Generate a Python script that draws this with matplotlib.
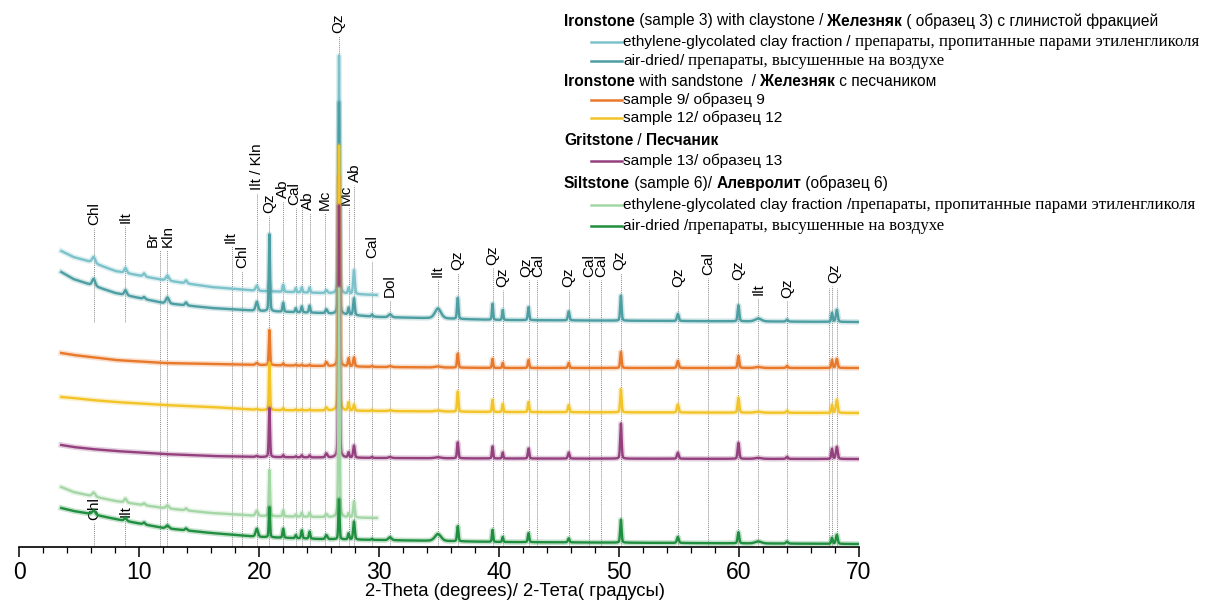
import numpy as np
import matplotlib
matplotlib.use("Agg")
import matplotlib.pyplot as plt
from matplotlib.lines import Line2D
from matplotlib.ticker import MultipleLocator

W, H = 1212, 603

# peak positions (2-theta) shared by all patterns, half widths
peak_pos = [6.2, 8.85, 10.4, 12.35, 13.9, 19.8, 20.85, 22.0, 23.05, 23.55, 24.2, 25.6, 26.65, 27.45, 27.9,
            29.4, 30.9, 34.9, 36.55, 39.45, 40.3, 42.45, 45.8, 50.15, 54.9, 59.95, 61.6, 64.0, 67.75, 68.15]
peak_hw = [0.15, 0.12, 0.1, 0.15, 0.1, 0.12, 0.06, 0.07, 0.07, 0.07, 0.07, 0.1, 0.06, 0.07, 0.08,
           0.07, 0.15, 0.3, 0.07, 0.06, 0.06, 0.07, 0.08, 0.07, 0.09, 0.08, 0.3, 0.1, 0.07, 0.09]

# peak heights per pattern (same order as peak_pos)
h_s3_eg = [6, 5, 3, 5, 3, 5, 10, 7, 4, 5, 5, 3, 238, 6, 24]
h_s3_ad = [7, 5, 2, 6, 3, 9, 77, 9, 4, 6, 7, 4, 212, 7, 17, 2, 3, 10, 21, 16, 10, 13, 9, 25, 7, 16, 3, 2, 9, 12]
h_s9 = [0, 0, 0, 0, 0, 2, 35, 2, 1, 1, 1, 4, 190, 8, 9, 1, 1, 1, 14, 9, 5, 8, 5, 16, 7, 12, 1, 2, 8, 9]
h_s12 = [0, 0, 0, 0, 0, 1, 47, 2, 1, 1, 1, 3, 265, 8, 6, 1, 1, 1, 20, 12, 8, 10, 7, 23, 8, 15, 1, 2, 8, 13]
h_s13 = [0, 0, 0, 0, 0, 1, 49, 2, 1, 2, 2, 4, 252, 5, 12, 1, 1, 1, 16, 12, 6, 10, 6, 35, 6, 16, 1, 2, 10, 12]
h_s6_eg = [4, 4, 2, 3, 2, 5, 46, 6, 2, 4, 4, 3, 229, 4, 16]
h_s6_ad = [4, 3, 2, 3, 2, 8, 30, 9, 3, 8, 7, 4, 40, 6, 18, 1, 3, 7, 15, 12, 5, 9, 4, 23, 6, 11, 2, 2, 6, 9]

# baselines (stacked offsets included)
knots_full = [3.5, 4.5, 6, 8, 12, 16, 20, 25, 30, 40, 70]
knots_clay = [3.5, 4.5, 6, 8, 12, 16, 20, 25, 29.8]
b_s3_eg = [296, 290, 285, 276, 267, 260, 256, 254, 252]
b_s3_ad = [275, 268, 262, 254, 244, 239, 236, 234, 230, 227, 225]
b_s9 = [194, 192, 190, 187, 184, 183, 182, 181, 180, 179, 179]
b_s12 = [150, 149, 147, 145, 142, 140, 137, 136.5, 136, 135, 134]
b_s13 = [102, 100, 98, 96, 93, 91, 90, 89.5, 89, 88.5, 88]
b_s6_eg = [60, 55, 51, 46, 39, 34, 31, 30, 29]
b_s6_ad = [39, 36, 33, 28, 19, 14, 10, 8, 7, 5, 3]

c_s3_eg = '#7cc2cb'
c_s3_ad = '#4c9ea3'
c_s9 = '#e8782a'
c_s12 = '#f2c428'
c_s13 = '#94407f'
c_s6_eg = '#a4d6a6'
c_s6_ad = '#1f8f3f'

# phase marks: label, line position, label position, label base, line bottom
mark_text = ['Chl', 'Ilt', 'Br', 'Kln', 'Ilt', 'Chl', 'Ilt / Kln', 'Qz', 'Ab', 'Cal', '', 'Ab', 'Mc', 'Qz', 'Mc',
             'Ab', 'Cal', 'Dol', 'Ilt', 'Qz', 'Qz', 'Qz', 'Qz', 'Cal', 'Qz', 'Cal', 'Cal', 'Qz', 'Qz', 'Cal',
             'Qz', 'Ilt', 'Qz', '', 'Qz', '', 'Chl', 'Ilt']
mark_pos = [6.25, 8.85, 11.75, 12.35, 17.7, 18.6, 19.8, 20.85, 22.0, 23.05, 23.55, 24.2, 25.5, 26.65, 27.45,
            27.9, 29.4, 30.9, 34.9, 36.55, 39.45, 40.3, 42.45, 43.15, 45.8, 47.5, 48.5, 50.15, 54.9, 57.4,
            59.95, 61.6, 64.0, 67.5, 67.75, 68.15, 6.25, 8.85]
mark_tx = [6.25, 8.85, 11.1, 12.4, 17.6, 18.6, 19.8, 20.8, 21.95, 22.95, 23.55, 24.05, 25.5, 26.55, 27.25,
           28.0, 29.4, 30.85, 34.9, 36.5, 39.4, 40.3, 42.3, 43.3, 45.8, 47.5, 48.5, 50.0, 54.9, 57.4,
           59.9, 61.6, 64.0, 67.5, 67.9, 68.15, 6.25, 8.85]
mark_y = [322, 324, 300, 300, 304, 279, 357, 334, 349, 342, 342, 337, 337, 514, 342,
          365, 289, 250, 270, 277, 282, 260, 270, 270, 260, 270, 270, 277, 260, 272,
          267, 252, 249, 262, 264, 262, 27, 30]
mark_floor = [225, 225] + [0] * 36

SANS = ['Liberation Sans', 'DejaVu Sans']
SERIF = ['Liberation Serif', 'DejaVu Serif']

def pattern(x, kx, ky, heights):
    y = np.interp(x, kx, ky)
    for p, w, h in zip(peak_pos, peak_hw, heights):
        if h:
            d = (x - p) / w
            y = y + h * (0.7 * np.exp(-np.log(2) * d ** 2) + 0.3 / (1 + d ** 2))
    return y

fig = plt.figure(figsize=(W / 100, H / 100), dpi=100)
ax = fig.add_axes([19.3 / W, (H - 547) / H, (859 - 19.3) / W, 547 / H])
ax.set_xlim(0, 70)
ax.set_ylim(0, 547)

for t, p, tx, ty, fl in zip(mark_text, mark_pos, mark_tx, mark_y, mark_floor):
    ax.plot([p, p], [fl, ty - 3], color='#8c8c8c', lw=0.7, ls=(0, (1, 1)), zorder=1)
    if t:
        ax.text(tx, ty, t, rotation=90, ha='center', va='bottom', fontsize=11, family=SANS)

x_full = np.arange(3.5, 70.0, 0.005)
x_clay = np.arange(3.5, 29.8, 0.005)
series = [
    (x_clay, knots_clay, b_s3_eg, h_s3_eg, c_s3_eg),
    (x_full, knots_full, b_s3_ad, h_s3_ad, c_s3_ad),
    (x_full, knots_full, b_s9, h_s9, c_s9),
    (x_full, knots_full, b_s12, h_s12, c_s12),
    (x_full, knots_full, b_s13, h_s13, c_s13),
    (x_clay, knots_clay, b_s6_eg, h_s6_eg, c_s6_eg),
    (x_full, knots_full, b_s6_ad, h_s6_ad, c_s6_ad),
]
for i, (xx, kx, ky, hh, c) in enumerate(series):
    yy = pattern(xx, kx, ky, hh)
    ax.plot(xx, yy, color=c, lw=4, alpha=0.25, zorder=2 + i)
    ax.plot(xx, yy, color=c, lw=1.7, zorder=2 + i)

for s in ['left', 'top', 'right']:
    ax.spines[s].set_visible(False)
ax.spines['bottom'].set_linewidth(1.2)
ax.set_yticks([])
ax.xaxis.set_major_locator(MultipleLocator(10))
ax.xaxis.set_minor_locator(MultipleLocator(2))
ax.tick_params(axis='x', which='major', length=7, width=1.1, pad=3, labelsize=16.5)
ax.tick_params(axis='x', which='minor', length=4, width=0.9)
for lab in ax.get_xticklabels():
    lab.set_family(SANS)
fig.text(365 / W, 1 - 592 / H, '2-Theta (degrees)/ 2-Тета( градусы)', fontsize=13.3, family=SANS,
         ha='left', va='center')

# legend built by hand, text runs placed one after another
renderer = fig.canvas.get_renderer()

def runs(x, y, parts, size=11.1, serif_size=12.1):
    for s, bold, serif in parts:
        t = fig.text(x / W, 1 - y / H, s, va='center', ha='left',
                     fontsize=(serif_size if serif else size),
                     family=(SERIF if serif else SANS), weight=('bold' if bold else 'normal'))
        x = t.get_window_extent(renderer).x1

leg_rows = [
    (21, None, [("Ironstone", 1, 0), (" (sample 3) with claystone / ", 0, 0), ("Железняк", 1, 0),
                (" ( образец 3) с глинистой фракцией", 0, 0)]),
    (42, c_s3_eg, [("ethylene-glycolated clay fraction", 0, 0), (" / ", 0, 0),
                   ("препараты, пропитанные парами этиленгликоля", 0, 1)]),
    (61, c_s3_ad, [("air-dried", 0, 0), ("/ ", 0, 0), ("препараты, высушенные на воздухе", 0, 1)]),
    (82, None, [("Ironstone", 1, 0), (" with sandstone  / ", 0, 0), ("Железняк", 1, 0), (" с песчаником", 0, 0)]),
    (100, c_s9, [("sample 9", 0, 0), ("/ образец 9", 0, 0)]),
    (118, c_s12, [("sample 12", 0, 0), ("/ образец 12", 0, 0)]),
    (140, None, [("Gritstone", 1, 0), (" / ", 0, 0), ("Песчаник", 1, 0)]),
    (161, c_s13, [("sample 13", 0, 0), ("/ образец 13", 0, 0)]),
    (183, None, [("Siltstone", 1, 0), (" (sample 6)/ ", 0, 0), ("Алевролит", 1, 0), (" (образец 6)", 0, 0)]),
    (205, c_s6_eg, [("ethylene-glycolated clay fraction ", 0, 0), ("/", 0, 0),
                    ("препараты, пропитанные парами этиленгликоля", 0, 1)]),
    (226, c_s6_ad, [("air-dried ", 0, 0), ("/", 0, 0), ("препараты, высушенные на воздухе", 0, 1)]),
]
for y, c, parts in leg_rows:
    if c is None:
        runs(564, y, parts, size=11.2)
    else:
        fig.add_artist(Line2D([591 / W, 622 / W], [1 - y / H, 1 - y / H], color=c, lw=1.8))
        runs(623, y, parts)

fig.savefig('out.png', dpi=100)
